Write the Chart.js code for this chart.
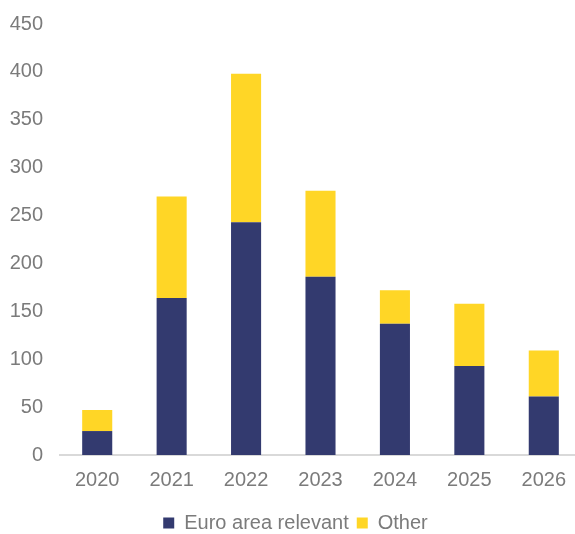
<!DOCTYPE html>
<html>
<head>
<meta charset="utf-8">
<script src="https://cdn.jsdelivr.net/npm/chart.js@4/dist/chart.umd.min.js"></script>
<style>
  html, body { margin: 0; padding: 0; background: #fff; overflow: hidden; }
  #wrap { width: 581px; height: 534px; }
</style>
</head>
<body>
<div id="wrap"><canvas id="chart"></canvas></div>
<script>
const years = ["2020", "2021", "2022", "2023", "2024", "2025", "2026"];
const euroAreaRelevant = [25, 164, 243, 186, 137, 93, 61];
const other = [22, 106, 155, 90, 35, 65, 48];
const yTicks = [0, 50, 100, 150, 200, 250, 300, 350, 400, 450];

const navy = "#333a6f";
const yellow = "#ffd626";
const textGray = "#7b7b7b";
const font = { family: "Liberation Sans, Arial", size: 20 };

new Chart(document.querySelector("#chart"), {
  type: "bar",
  data: {
    labels: years,
    datasets: [
      { label: "Euro area relevant", data: euroAreaRelevant, backgroundColor: navy },
      { label: "Other", data: other, backgroundColor: yellow },
    ],
  },
  options: {
    responsive: true,
    maintainAspectRatio: false,
    animation: false,
    datasets: { bar: { barPercentage: 0.404, categoryPercentage: 1 } },
    layout: { padding: { left: 10, top: 24, right: 0, bottom: -9 } },
    scales: {
      x: {
        stacked: true,
        grid: { display: false, drawTicks: false },
        border: { color: "#d9d9d9", width: 2 },
        ticks: { color: textGray, font, padding: 13 },
      },
      y: {
        stacked: true,
        min: yTicks[0],
        max: yTicks[yTicks.length - 1],
        afterBuildTicks: (axis) => {
          axis.ticks = yTicks.map((value) => ({ value }));
        },
        afterFit: (axis) => {
          // fixed gutter so the plot starts where the reference does
          axis.width = 50;
          axis.paddingTop = 0;
          axis.paddingBottom = 0;
        },
        grid: { display: false, drawTicks: false },
        border: { display: false },
        ticks: { color: textGray, font, padding: 17 },
      },
    },
    plugins: {
      tooltip: { enabled: false },
      legend: {
        position: "bottom",
        labels: {
          color: textGray,
          font,
          boxWidth: 11,
          boxHeight: 11,
          padding: 8,
        },
      },
    },
  },
});
</script>
</body>
</html>
